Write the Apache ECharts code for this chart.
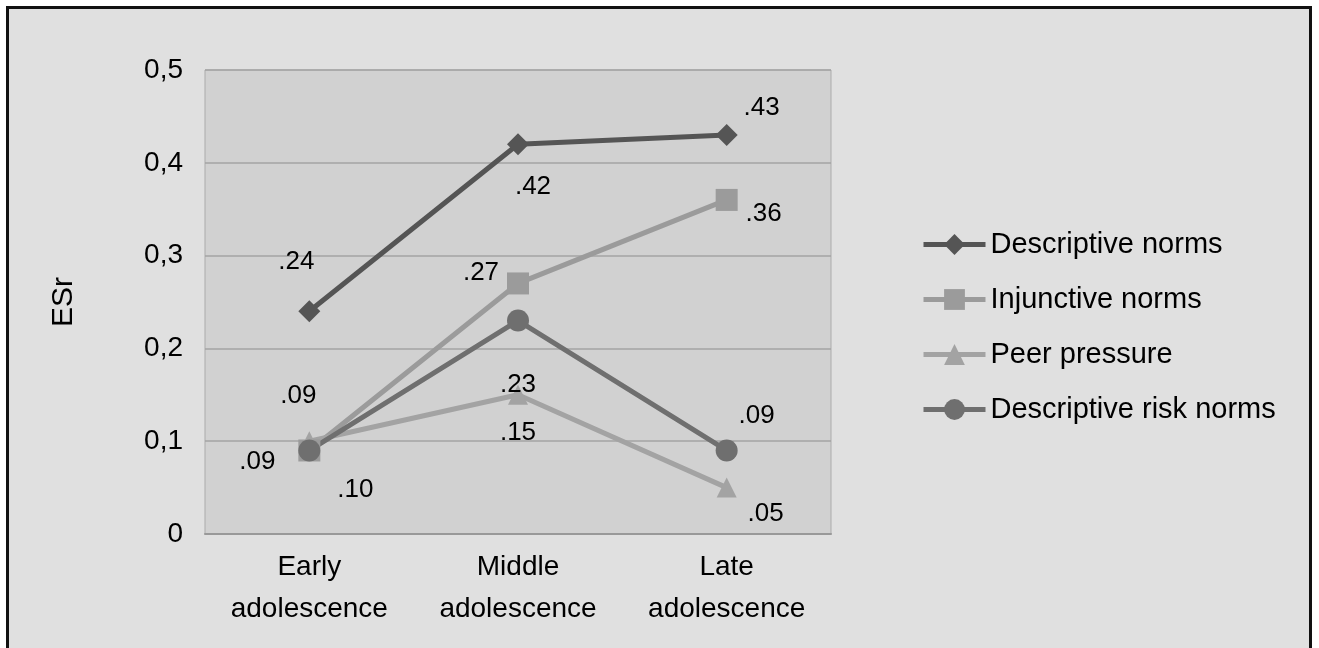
<!DOCTYPE html>
<html>
<head>
<meta charset="utf-8">
<style>
  html, body { margin: 0; padding: 0; background: #ffffff; }
  #chart { width: 1319px; height: 648px; }
</style>
<script src="https://cdn.jsdelivr.net/npm/echarts@6/dist/echarts.min.js"></script>
</head>
<body>
<div id="chart"></div>
<script>
// Age groups along the x axis
const categories = ['Early\nadolescence', 'Middle\nadolescence', 'Late\nadolescence'];

// Effect sizes (ESr) per norm type
const descriptiveNorms = [0.24, 0.42, 0.43];
const injunctiveNorms = [0.09, 0.27, 0.36];
const peerPressure = [0.10, 0.15, 0.05];
const descriptiveRiskNorms = [0.09, 0.23, 0.09];

const yTicks = [0, 0.1, 0.2, 0.3, 0.4, 0.5];

// Where each value label sits relative to its marker (px)
const labelOffsets = {
  desc: [[-13, -49], [15, 43], [35, -27]],
  inj: [[-52, 11], [-37, -11], [37, 14]],
  peer: [[46, 49], [0, 38], [39, 26]],
  risk: [[-11, -55], [0, 64], [30, -35]]
};

const FONT = '"Liberation Sans", Arial, sans-serif';

function fmtLabel(v) {
  return v.toFixed(2).replace(/^0/, '');
}

function makeSeries(name, values, color, symbol, size, offsets) {
  return {
    name: name,
    type: 'line',
    data: values.map((v, i) => ({
      value: v,
      label: {
        show: true,
        position: 'inside',
        offset: offsets[i],
        formatter: fmtLabel(v),
        color: '#000',
        fontSize: 26,
        fontFamily: FONT
      }
    })),
    symbol: symbol,
    symbolSize: size,
    lineStyle: { color: color, width: 5 },
    itemStyle: { color: color },
    emphasis: { disabled: true },
    animation: false,
    z: 3
  };
}

const chart = echarts.init(document.getElementById('chart'), null, { renderer: 'canvas' });

chart.setOption({
  backgroundColor: '#ffffff',
  animation: false,
  graphic: [{
    type: 'rect',
    z: -10,
    shape: { x: 7.5, y: 7.5, width: 1303, height: 680 },
    style: { fill: '#e0e0e0', stroke: '#111111', lineWidth: 3 },
    silent: true
  }],
  grid: {
    left: 205, top: 70, right: 488, bottom: 114,
    show: true,
    backgroundColor: '#d1d1d1',
    borderColor: '#ababab',
    borderWidth: 1
  },
  legend: {
    orient: 'vertical',
    left: 916,
    top: 224,
    itemWidth: 62,
    itemHeight: 26,
    itemGap: 24,
    lineStyle: { width: 5 },
    textStyle: { fontSize: 29, fontFamily: FONT, color: '#000', lineHeight: 31 },
    data: ['Descriptive norms', 'Injunctive norms', 'Peer pressure', 'Descriptive risk norms']
  },
  xAxis: {
    type: 'category',
    data: categories,
    boundaryGap: true,
    axisLine: { lineStyle: { color: '#999999', width: 2 } },
    axisTick: { show: false },
    axisLabel: {
      color: '#000', fontSize: 28, fontFamily: FONT, lineHeight: 42, margin: 12
    },
    splitLine: { show: false }
  },
  yAxis: {
    type: 'value',
    min: yTicks[0],
    max: yTicks[yTicks.length - 1],
    interval: 0.1,
    name: 'ESr',
    nameLocation: 'middle',
    nameRotate: 90,
    nameGap: 126,
    nameTextStyle: { color: '#000', fontSize: 30, fontFamily: FONT },
    axisLine: { show: false },
    axisTick: { show: false },
    axisLabel: {
      color: '#000', fontSize: 28, fontFamily: FONT, margin: 22,
      formatter: v => v === 0 ? '0' : v.toFixed(1).replace('.', ',')
    },
    splitLine: { show: true, lineStyle: { color: '#a3a3a3', width: 1.5 } }
  },
  series: [
    makeSeries('Descriptive norms', descriptiveNorms, '#555555', 'diamond', 22, labelOffsets.desc),
    makeSeries('Injunctive norms', injunctiveNorms, '#9b9b9b', 'rect', 22, labelOffsets.inj),
    makeSeries('Peer pressure', peerPressure, '#a3a3a3', 'triangle', 20, labelOffsets.peer),
    makeSeries('Descriptive risk norms', descriptiveRiskNorms, '#6f6f6f', 'circle', 22, labelOffsets.risk)
  ]
});
</script>
</body>
</html>
